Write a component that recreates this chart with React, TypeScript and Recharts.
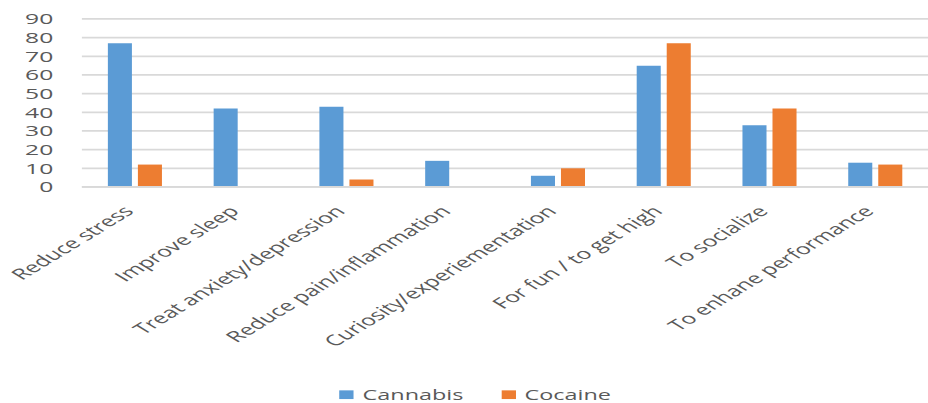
import { BarChart, Bar, XAxis, YAxis, CartesianGrid, Legend } from "recharts";

// reasons for use, one entry per category on the x axis
const reasons = [
  "Reduce stress",
  "Improve sleep",
  "Treat anxiety/depression",
  "Reduce pain/inflammation",
  "Curiosity/experiementation",
  "For fun / to get high",
  "To socialize",
  "To enhane performance",
];
const cannabis = [77, 42, 43, 14, 6, 65, 33, 13];
const cocaine = [12, 0, 4, 0, 10, 77, 42, 12];
const yTicks = [0, 10, 20, 30, 40, 50, 60, 70, 80, 90];

const data = reasons.map((reason, i) => ({
  reason,
  Cannabis: cannabis[i],
  Cocaine: cocaine[i],
}));

// the chart is drawn in a smaller box and stretched to its final size
const OUT_W = 928;
const OUT_H = 403;
const W = 714;
const H = 510;
const SX = OUT_W / W;
const SY = OUT_H / H;

const FONT = "'Open Sans', sans-serif";
const TEXT = "#595959";
const GRID = "#d9d9d9";

const AngledTick = ({ x, y, payload }: any) => (
  <text
    x={x}
    y={y}
    transform={`rotate(-45, ${x}, ${y})`}
    textAnchor="end"
    fill={TEXT}
    fontSize={19}
    fontFamily={FONT}
  >
    {payload.value}
  </text>
);

const LegendContent = ({ payload }: any) => (
  <div
    style={{
      display: "flex",
      alignItems: "center",
      height: 22,
      marginLeft: 261,
      fontFamily: FONT,
      fontSize: 18,
      color: TEXT,
    }}
  >
    {(payload || []).map((entry: any, i: number) => (
      <div
        key={entry.value}
        style={{ display: "flex", alignItems: "center", marginLeft: i ? 29 : 0 }}
      >
        <span
          style={{
            display: "inline-block",
            width: 11,
            height: 11,
            background: entry.color,
            marginRight: 7,
          }}
        />
        {entry.value}
      </div>
    ))}
  </div>
);

export default function App() {
  return (
    <div
      style={{
        position: "absolute",
        left: 0,
        top: 0,
        width: OUT_W,
        height: OUT_H,
        overflow: "hidden",
        background: "#fff",
      }}
    >
      <div
        style={{
          width: W,
          height: H,
          transform: `scale(${SX}, ${SY})`,
          transformOrigin: "0 0",
        }}
      >
        <BarChart
          width={W}
          height={H}
          data={data}
          margin={{ top: 24, right: 0, left: 0, bottom: 0 }}
          barSize={18.5}
          barGap={4.6}
        >
          <CartesianGrid vertical={false} stroke={GRID} strokeWidth={2.2} />
          <XAxis
            dataKey="reason"
            interval={0}
            height={256}
            tickLine={false}
            axisLine={{ stroke: GRID, strokeWidth: 2.2 }}
            tickSize={0}
            tickMargin={32}
            tick={<AngledTick />}
          />
          <YAxis
            width={63}
            domain={[0, 90]}
            ticks={yTicks}
            interval={0}
            tickLine={false}
            axisLine={false}
            tickSize={0}
            tickMargin={22}
            tick={{ fill: TEXT, fontSize: 19, fontFamily: FONT }}
          />
          <Legend
            verticalAlign="bottom"
            content={<LegendContent />}
            wrapperStyle={{ left: 0, width: W }}
          />
          <Bar dataKey="Cannabis" fill="#5B9BD5" isAnimationActive={false} />
          <Bar dataKey="Cocaine" fill="#ED7D31" isAnimationActive={false} />
        </BarChart>
      </div>
    </div>
  );
}
